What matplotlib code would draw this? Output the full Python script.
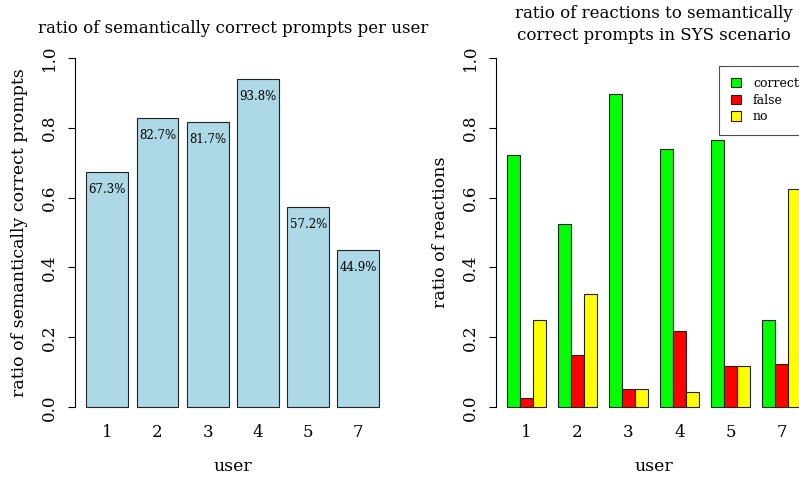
import matplotlib
matplotlib.use("Agg")
import matplotlib.pyplot as plt
from matplotlib.patches import Patch

plt.rcParams['font.family'] = ['DejaVu Serif']

# data
users = ["1", "2", "3", "4", "5", "7"]
correct_ratio = [0.673, 0.827, 0.817, 0.938, 0.572, 0.449]
ratio_labels = ["67.3%", "82.7%", "81.7%", "93.8%", "57.2%", "44.9%"]

react_correct = [0.722, 0.525, 0.897, 0.739, 0.765, 0.250]
react_false = [0.028, 0.150, 0.052, 0.217, 0.118, 0.125]
react_no = [0.250, 0.325, 0.052, 0.043, 0.118, 0.625]
series_names = ["correct", "false", "no"]
series_colors = ["#00FF00", "#FF0000", "#FFFF00"]

W, H = 799, 479
fig = plt.figure(figsize=(W / 100, H / 100), dpi=100)


def rect(x0, y0, x1, y1):
    # pixel box -> figure fraction
    return [x0 / W, 1 - y1 / H, (x1 - x0) / W, (y1 - y0) / H]


def style_axes(ax):
    for s in ["top", "right", "bottom"]:
        ax.spines[s].set_visible(False)
    ax.spines["left"].set_bounds(0, 1)
    ax.spines["left"].set_linewidth(0.8)
    ax.set_ylim(-0.04, 1.04)
    ax.set_yticks([0, 0.2, 0.4, 0.6, 0.8, 1.0])
    ax.set_yticklabels(["0.0", "0.2", "0.4", "0.6", "0.8", "1.0"], rotation=90, va="center")
    ax.tick_params(axis="y", length=5, width=0.8, pad=7, labelsize=12)
    ax.tick_params(axis="x", length=0, pad=2, labelsize=12)


# left panel
ax1 = fig.add_axes(rect(74.6, 43.7, 391, 421.3))
x1 = [0.2 + i * 1.2 + 0.5 for i in range(len(users))]
ax1.bar(x1, correct_ratio, width=1, color="lightblue", edgecolor="#222222", linewidth=0.8)
for x, v, lab in zip(x1, correct_ratio, ratio_labels):
    ax1.text(x, v - 0.05, lab, ha="center", va="center", fontsize=8.5)
ax1.set_xlim(-0.08, 7.48)
style_axes(ax1)
ax1.set_xticks(x1)
ax1.set_xticklabels(users)
ax1.set_xlabel("user", fontsize=12.5, labelpad=12)
ax1.set_ylabel("ratio of semantically correct prompts", fontsize=12.5, labelpad=9)
ax1.set_title("ratio of semantically correct prompts per user", fontsize=12, pad=8)

# right panel
ax2 = fig.add_axes(rect(495.6, 43.7, 812.3, 421.3))
groups = [react_correct, react_false, react_no]
for s, (vals, col) in enumerate(zip(groups, series_colors)):
    xs = [1 + 4 * g + s + 0.5 for g in range(len(users))]
    ax2.bar(xs, vals, width=1, color=col, edgecolor="#222222", linewidth=0.8)
ax2.set_xlim(0.08, 24.92)
style_axes(ax2)
ax2.set_xticks([1 + 4 * g + 1.5 for g in range(len(users))])
ax2.set_xticklabels(users)
ax2.set_xlabel("user", fontsize=12.5, labelpad=12)
ax2.set_ylabel("ratio of reactions", fontsize=12.5, labelpad=9)
ax2.set_title("ratio of reactions to semantically\ncorrect prompts in SYS scenario", fontsize=12, pad=1,
              linespacing=1.35)

handles = [Patch(facecolor=c, edgecolor="#222222", linewidth=0.8) for c in series_colors]
leg = ax2.legend(handles, series_names, loc="upper left", bbox_to_anchor=(719.3 / W, 1 - 65.7 / H),
                 bbox_transform=fig.transFigure, fontsize=9, frameon=True, fancybox=False,
                 handlelength=0.8, handleheight=0.8, handletextpad=1.0, borderpad=0.9,
                 labelspacing=0.3, borderaxespad=0)
leg.get_frame().set_edgecolor("#222222")
leg.get_frame().set_linewidth(0.8)

fig.savefig("out.png", dpi=100)
